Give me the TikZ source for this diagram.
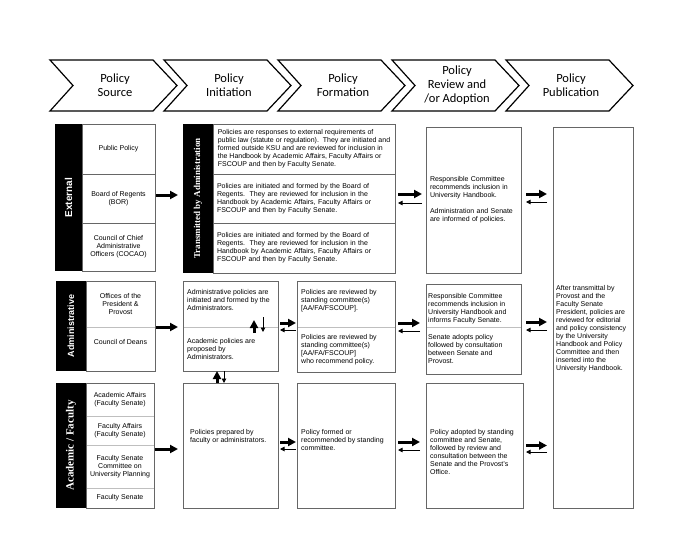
\documentclass[tikz,border=0pt]{standalone}
\usepackage{graphicx}
\usepackage{fontspec}
\setmainfont{Liberation Sans}
\newfontfamily\chevfont{Carlito}
\newfontfamily\barfont{Liberation Serif}
\usetikzlibrary{arrows.meta}

\tikzset{
  chev/.style = {draw, line width=1.2pt},
  chevtext/.style = {font=\chevfont\fontsize{12.5}{14}\selectfont, align=center},
  cell/.style = {draw=black!60, line width=.8pt, anchor=north west, inner sep=0pt,
    outer sep=0pt, align=center, font=\fontsize{7}{8}\selectfont},
  lite/.style = {cell, draw=black!25},
  frame/.style = {draw=black!60, line width=.8pt},
  bar/.style = {fill=black, anchor=north west, inner sep=0pt, outer sep=0pt, text=white},
  txt/.style = {anchor=north west, align=left, inner sep=0pt, font=\fontsize{7}{8}\selectfont},
  fwd/.style = {line width=3pt, -{Triangle[length=8pt,width=8pt]}, shorten <=3pt, shorten >=4pt},
  back/.style = {line width=.9pt, -{Triangle[length=4.5pt,width=4.5pt]}, shorten <=4pt, shorten >=3pt}
}

\begin{document}
\begin{tikzpicture}[x=1pt, y=-1pt]
\useasboundingbox (0,0) rectangle (700,540);

% stages
\foreach \i/\stage in {0/{Policy\\Source}, 1/{Policy\\Initiation}, 2/{Policy\\Formation},
    3/{Policy\\Review and\\/or Adoption}, 4/{Policy\\Publication}} {
  \draw[chev] (50+114*\i,60) -- ++(103,0) -- ++(24,25.5) -- ++(-24,25.5) -- ++(-103,0)
    -- ++(23,-25.5) -- cycle;
  \node[chevtext] (stage\i) at (115+114*\i,85.5) {\stage};
}

% external
\node[bar, minimum width=27pt, minimum height=147pt, font=\bfseries\fontsize{10}{12}\selectfont]
  (extbar) at (55,124) {\rotatebox{90}{External}};
\node[cell, minimum width=73pt, minimum height=50pt] (pubpol) at (82,124) {Public Policy};
\node[cell, minimum width=73pt, minimum height=49pt] (bor) at (82,174) {Board of Regents\\(BOR)};
\node[cell, minimum width=73pt, minimum height=48pt] (cocao) at (82,223)
  {Council of Chief\\Administrative\\Officers (COCAO)};

\node[bar, minimum width=30pt, minimum height=149pt, font=\barfont\bfseries\fontsize{9}{11}\selectfont]
  (transbar) at (183,124) {\rotatebox{90}{Transmitted by Administration}};
\node[cell, minimum width=182pt, minimum height=50pt, align=left]
  (t1) at (213,124) {Policies are responses to external requirements of\\
  public law (statute or regulation).\ \ They are initiated and\\
  formed outside KSU and are reviewed for inclusion in\\
  the Handbook by Academic Affairs, Faculty Affairs or\\
  FSCOUP and then by Faculty Senate.};
\node[cell, minimum width=182pt, minimum height=49pt, align=left, text width=174pt, inner xsep=4pt]
  (t2) at (213,174) {Policies are initiated and formed by the Board of\\
  Regents.\ \ They are reviewed for inclusion in the\\
  Handbook by Academic Affairs, Faculty Affairs or\\
  FSCOUP and then by Faculty Senate.};
\node[cell, minimum width=182pt, minimum height=50pt, align=left, text width=174pt, inner xsep=4pt]
  (t3) at (213,223) {Policies are initiated and formed by the Board of\\
  Regents.\ \ They are reviewed for inclusion in the\\
  Handbook by Academic Affairs, Faculty Affairs or\\
  FSCOUP and then by Faculty Senate.};

\node[cell, minimum width=95pt, minimum height=146pt, align=left, text width=87pt, inner xsep=4pt]
  (rev1) at (426,127) {Responsible Committee\\recommends inclusion in\\University Handbook.\\[8pt]
  Administration and Senate\\are informed of policies.};

% publication
\node[cell, minimum width=80pt, minimum height=381pt] (pub) at (553,127) {};
\node[txt] (pubtxt) at (556,285) {After transmittal by\\Provost and the\\Faculty Senate\\
  President, policies are\\reviewed for editorial\\and policy consistency\\by the University\\
  Handbook and Policy\\Committee and then\\inserted into the\\University Handbook.};

% administrative
\node[bar, minimum width=30pt, minimum height=90pt, font=\bfseries\fontsize{9}{11}\selectfont]
  (admbar) at (56,281) {\rotatebox{90}{Administrative}};
\node[lite, minimum width=69pt, minimum height=46pt] (offices) at (86,281)
  {Offices of the\\President \&\\Provost};
\node[lite, minimum width=69pt, minimum height=44pt] (deans) at (86,327) {};
\node[txt, anchor=north, align=center] (deanstxt) at (120.5,339) {Council of Deans};
\draw[frame] (offices.north west) rectangle (deans.south east);

\node[lite, minimum width=95pt, minimum height=46pt] (admA) at (183,281) {};
\node[lite, minimum width=95pt, minimum height=44pt] (admB) at (183,327) {};
\draw[frame] (admA.north west) rectangle (admB.south east);
\node[txt] (admAtxt) at (187,289) {Administrative policies are\\initiated and formed by the\\Administrators.};
\node[txt] (admBtxt) at (187,338) {Academic policies are\\proposed by\\Administrators.};

\node[lite, minimum width=98pt, minimum height=46pt] (fA) at (297,281) {};
\node[lite, minimum width=98pt, minimum height=45pt] (fB) at (297,327) {};
\draw[frame] (fA.north west) rectangle (fB.south east);
\node[txt] (fAtxt) at (301,289) {Policies are reviewed by\\standing committee(s)\\{[AA/FA/FSCOUP].}};
\node[txt] (fBtxt) at (301,334) {Policies are reviewed by\\standing committee(s)\\{[AA/FA/FSCOUP]}\\who recommend policy.};

\node[lite, minimum width=95pt, minimum height=43pt] (rA) at (426,284) {};
\node[lite, minimum width=95pt, minimum height=47pt] (rB) at (426,327) {};
\draw[frame] (rA.north west) rectangle (rB.south east);
\node[txt] (rAtxt) at (428,293) {Responsible Committee\\recommends inclusion in\\University Handbook and\\informs Faculty Senate.};
\node[txt] (rBtxt) at (428,334) {Senate adopts policy\\followed by consultation\\between Senate and\\Provost.};

% academic / faculty
\node[bar, minimum width=30pt, minimum height=125pt, font=\barfont\bfseries\fontsize{11}{13}\selectfont]
  (acbar) at (56,383) {\rotatebox{90}{Academic / Faculty}};
\node[lite, minimum width=68pt, minimum height=33pt] (aa) at (86,383) {Academic Affairs\\(Faculty Senate)};
\node[lite, minimum width=68pt, minimum height=29pt] (fa) at (86,416) {Faculty Affairs\\(Faculty Senate)};
\node[lite, minimum width=68pt, minimum height=43pt] (fscoup) at (86,445)
  {Faculty Senate\\Committee on\\University Planning};
\node[lite, minimum width=68pt, minimum height=20pt] (fs) at (86,488) {Faculty Senate};
\draw[frame] (aa.north west) rectangle (fs.south east);

\node[cell, minimum width=95pt, minimum height=125pt] (acinit) at (183,383) {};
\node[txt] (acinittxt) at (190,429) {Policies prepared by\\faculty or administrators.};
\node[cell, minimum width=98pt, minimum height=125pt] (acform) at (297,383) {};
\node[txt] (acformtxt) at (301,429) {Policy formed or\\recommended by standing\\committee.};
\node[cell, minimum width=97pt, minimum height=125pt] (acrev) at (426,383) {};
\node[txt] (acrevtxt) at (430,429) {Policy adopted by standing\\committee and Senate,\\followed by review and\\
  consultation between the\\Senate and the Provost's\\Office.};

% external arrows
\draw[fwd, shorten <=1pt, shorten >=5pt] ([yshift=3.5pt]bor.east) -- ([yshift=3.5pt]bor.east -| transbar.west);
\draw[fwd] ([yshift=4.5pt]t2.east) -- ([yshift=4.5pt]t2.east -| rev1.west);
\draw[back] ([yshift=-4.5pt]t2.east -| rev1.west) -- ([yshift=-4.5pt]t2.east);
\draw[fwd, shorten <=5pt, shorten >=6pt] ([yshift=6pt]rev1.east) -- ([yshift=6pt]rev1.east -| pub.west);
\draw[back, shorten <=6pt, shorten >=5pt] ([yshift=-2pt]rev1.east -| pub.west) -- ([yshift=-2pt]rev1.east);

% administrative arrows
\draw[fwd, shorten <=1pt, shorten >=5pt] (offices.south east) -- (admA.south west);
\draw[fwd, shorten <=0pt, shorten >=0pt] ([xshift=23.5pt,yshift=-6pt]admA.south) -- ([xshift=23.5pt,yshift=7pt]admA.south);
\draw[back, shorten <=0pt, shorten >=0pt] ([xshift=32.5pt,yshift=10pt]admA.south) -- ([xshift=32.5pt,yshift=-5pt]admA.south);
\draw[fwd, shorten <=2pt, shorten >=1pt] ([yshift=4pt]admA.south east) -- ([yshift=4pt]fA.south west);
\draw[back, shorten <=1pt, shorten >=2pt] ([yshift=-3pt]fA.south west) -- ([yshift=-3pt]admA.south east);
\draw[fwd, shorten <=3pt, shorten >=6pt] ([yshift=4pt]fA.south east) -- ([yshift=4pt]rA.south west);
\draw[back, shorten <=6pt, shorten >=3pt] ([yshift=-4pt]rA.south west) -- ([yshift=-4pt]fA.south east);
\draw[fwd, shorten <=5pt, shorten >=6pt] ([yshift=5pt]rA.south east) -- ([yshift=5pt]rA.south east -| pub.west);
\draw[back, shorten <=6pt, shorten >=5pt] ([yshift=-3pt]rA.south east -| pub.west) -- ([yshift=-3pt]rA.south east);
\draw[fwd, shorten <=0pt, shorten >=0pt] ([xshift=-13.5pt]acinit.north) -- ([xshift=-13.5pt]admB.south);
\draw[back, shorten <=0pt, shorten >=0pt] ([xshift=-6.5pt]admB.south) -- ([xshift=-6.5pt]acinit.north);

% academic arrows
\draw[fwd, shorten <=1pt, shorten >=5pt] ([yshift=-4pt]fa.south east) -- ([yshift=-4pt]fa.south east -| acinit.west);
\draw[fwd, shorten <=2pt, shorten >=1pt] ([yshift=3.5pt]acinit.east) -- ([yshift=3.5pt]acform.west);
\draw[back, shorten <=1pt, shorten >=2pt] ([yshift=-3.5pt]acform.west) -- ([yshift=-3.5pt]acinit.east);
\draw[fwd, shorten <=3pt, shorten >=6pt] ([yshift=3.5pt]acform.east) -- ([yshift=3.5pt]acrev.west);
\draw[back, shorten <=6pt, shorten >=3pt] ([yshift=-4.5pt]acrev.west) -- ([yshift=-4.5pt]acform.east);
\draw[fwd, shorten <=3pt, shorten >=6pt] (acrev.east) -- (acrev.east -| pub.west);
\draw[back, shorten <=6pt, shorten >=3pt] ([yshift=-6.5pt]acrev.east -| pub.west) -- ([yshift=-6.5pt]acrev.east);
\end{tikzpicture}
\end{document}
